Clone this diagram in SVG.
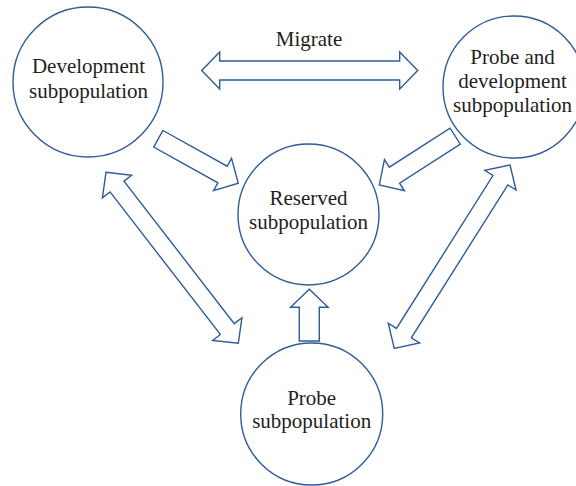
<svg xmlns="http://www.w3.org/2000/svg" width="576" height="486" viewBox="0 0 576 486">
<style>
.node circle{fill:#fff;stroke:#2e5c99;stroke-width:1.4}
.node text{font-family:"Liberation Serif","Times New Roman",serif;font-size:21px;fill:#231f20;text-anchor:middle}
.arr path{fill:#fff;stroke:#2e5c99;stroke-width:1.4;stroke-linejoin:miter}
.lbl{font-family:"Liberation Serif","Times New Roman",serif;font-size:21px;fill:#231f20;text-anchor:middle}
</style>
<rect width="576" height="486" fill="#fff"/>
<g id="connectors" class="arr">
<path transform="translate(201.7,70.5)" d="M0,0 L18,-18.5 V-9.5 H198 V-18.5 L216,0 L198,18.5 V9.5 H18 V18.5 Z"/>
<path transform="translate(158.3,138.8) rotate(29.08)" d="M0,-9.5 H73.5 V-18.5 L91.5,0 L73.5,18.5 V9.5 H0 Z"/>
<path transform="translate(455.2,136.2) rotate(147.3)" d="M0,-9.5 H72.2 V-18.5 L90.2,0 L72.2,18.5 V9.5 H0 Z"/>
<path transform="translate(309.3,341) rotate(-90)" d="M0,-10 H33.7 V-18.8 L51.7,0 L33.7,18.8 V10 H0 Z"/>
<path transform="translate(106,172.3) rotate(52.27)" d="M0,0 L18,-18.5 V-8.8 H198.2 V-18.5 L216.2,0 L198.2,18.5 V8.8 H18 V18.5 Z"/>
<path transform="translate(510,165) rotate(122.26)" d="M0,0 L18,-18.5 V-8.8 H198.8 V-18.5 L216.8,0 L198.8,18.5 V8.8 H18 V18.5 Z"/>
</g>
<text class="lbl" x="309" y="46">Migrate</text>
<g id="node-development" class="node">
<circle cx="88" cy="82" r="75"/>
<text x="88.5" y="73">Development</text>
<text x="88.5" y="98">subpopulation</text>
</g>
<g id="node-probe-development" class="node">
<circle cx="514" cy="87" r="71"/>
<text x="512.5" y="64">Probe and</text>
<text x="512.5" y="88">development</text>
<text x="512.5" y="112">subpopulation</text>
</g>
<g id="node-reserved" class="node">
<circle cx="308.5" cy="214.5" r="70.5"/>
<text x="308.5" y="205">Reserved</text>
<text x="308.5" y="229">subpopulation</text>
</g>
<g id="node-probe" class="node">
<circle cx="311.7" cy="414" r="71"/>
<text x="311.7" y="405">Probe</text>
<text x="311.7" y="428">subpopulation</text>
</g>
</svg>
